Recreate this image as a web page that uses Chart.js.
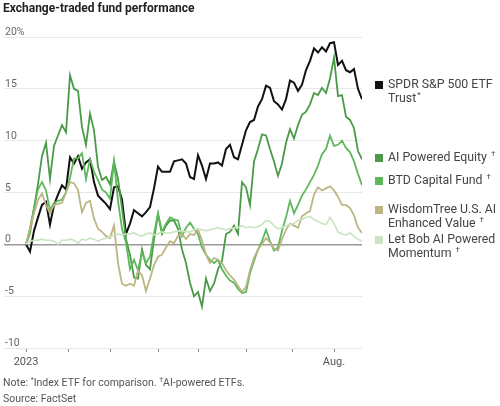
<!DOCTYPE html>
<html>
<head>
<meta charset="utf-8">
<script src="https://cdn.jsdelivr.net/npm/chart.js@4.4.0/dist/chart.umd.min.js"></script>
<style>
  body { margin: 0; width: 500px; height: 406px; background: #fff; overflow: hidden; position: relative;
         font-family: Roboto, 'Noto Sans', sans-serif; }
  #title { position: absolute; left: 3px; top: 1px; font-size: 12px; font-weight: bold; color: #222; }
  #wrap { position: absolute; left: 0; top: 0; width: 500px; height: 406px; }
  #note { position: absolute; left: 3px; top: 375px; font-size: 10.5px; color: #555; line-height: 16px; }
  #note sup { font-size: 7px; vertical-align: 4px; line-height: 0; }
</style>
</head>
<body>
<div id="wrap"><canvas id="chart"></canvas></div>
<div id="title">Exchange-traded fund performance</div>
<div id="note">Note: <sup>*</sup>Index ETF for comparison. <sup>†</sup>AI-powered ETFs.<br>Source: FactSet</div>
<script>
// values in % change since start of 2023, sampled evenly from Jan 3 to mid-Aug
const spdr = [0.0, -0.7, 1.3, 2.6, 3.8, 4.1, 1.9, 3.8, 4.8, 5.7, 5.3, 8.4, 7.8, 8.5, 7.3, 7.9, 8.2, 6.0, 4.7, 4.3,
  3.9, 3.4, 5.5, 5.6, 4.3, 1.0, 2.0, 3.3, 3.0, 2.7, 3.1, 3.6, 5.4, 7.5, 7.0, 7.0, 7.0, 8.0, 8.1, 8.2,
  7.8, 6.5, 6.3, 8.6, 7.6, 6.3, 7.8, 7.8, 7.9, 7.6, 9.2, 9.6, 8.4, 8.2, 9.6, 11.0, 11.8, 12.0, 13.3, 14.0,
  15.3, 15.1, 13.8, 13.5, 13.0, 14.0, 15.8, 15.6, 14.8, 15.4, 16.8, 17.7, 18.9, 18.5, 19.0, 18.6, 19.4, 19.5, 17.3, 17.7,
  16.8, 16.6, 16.9, 15.0, 14.0];
const aiEquity = [0.0, 1.5, 3.5, 5.8, 8.5, 9.8, 6.3, 9.5, 10.5, 11.5, 10.8, 16.3, 15.0, 14.8, 11.3, 9.6, 12.6, 11.0, 7.5, 6.2,
  6.5, 5.8, 8.0, 6.3, 3.5, 0.5, -1.0, -3.2, -3.3, -0.5, -2.0, -2.4, 0.5, 2.9, 1.0, 1.8, 2.3, 2.3, 1.5, -0.5,
  -1.8, -3.7, -5.0, -4.6, -6.0, -3.3, -4.5, -3.8, -2.4, -1.6, 1.0, 1.2, 1.8, 1.0, 6.0, 5.5, 3.8, 8.0, 9.2, 10.6,
  10.5, 9.2, 8.0, 6.6, 7.8, 9.8, 11.1, 10.2, 11.5, 12.5, 12.8, 13.5, 14.6, 14.4, 15.1, 14.6, 16.0, 18.0, 14.3, 14.4,
  12.3, 12.0, 11.2, 9.0, 8.2];
const btdCapital = [0.0, 1.0, 3.5, 5.3, 6.0, 5.2, 3.3, 4.0, 4.2, 4.3, 5.0, 6.4, 8.3, 8.3, 8.8, 6.3, 8.2, 7.0, 6.2, 5.3,
  5.0, 4.4, 8.0, 4.2, 1.5, 0.2, -2.4, -1.5, -2.5, -0.8, -1.8, -1.2, 1.0, 3.0, 1.2, 2.0, 2.6, 2.4, 2.3, 0.8,
  1.6, 2.1, 1.5, 1.0, -0.3, -1.0, -1.5, -1.8, -1.5, -2.4, -3.0, -3.5, -3.7, -4.3, -4.7, -4.6, -2.8, -1.6, -0.5, 0.3,
  1.4, 0.3, -0.6, -0.3, 1.3, 2.6, 4.2, 3.0, 3.8, 4.7, 5.3, 6.0, 6.7, 7.6, 8.7, 9.2, 10.5, 9.5, 9.6, 10.0,
  9.3, 8.9, 8.0, 6.8, 5.7];
const wisdomTree = [0.0, 1.5, 3.0, 4.3, 4.9, 3.8, 3.0, 3.8, 3.9, 4.0, 5.0, 6.0, 5.9, 5.2, 3.1, 4.0, 4.2, 2.5, 1.5, 1.2,
  0.8, 0.6, 1.8, -1.8, -3.8, -4.0, -3.8, -4.0, -2.5, -3.0, -4.5, -3.3, -2.0, -1.2, -1.0, -0.3, 0.3, 0.1, 0.8, 1.0,
  0.5, 1.0, 0.9, 1.4, 0.4, -1.0, -1.8, -1.3, -1.5, -1.8, -2.5, -3.0, -3.4, -4.0, -4.6, -4.1, -2.5, -1.3, -0.5, 0.0,
  0.6, 0.2, -0.4, -0.6, 0.5, 1.4, 2.0, 1.8, 1.6, 2.7, 3.0, 3.2, 4.8, 5.5, 5.2, 5.4, 5.6, 5.2, 4.6, 3.8,
  3.8, 3.5, 2.8, 1.6, 1.1];
const letBob = [0.0, 0.3, 0.4, 0.4, 0.5, 0.4, 0.4, 0.3, 0.0, 0.4, 0.4, 0.5, 0.4, 0.1, 0.5, 0.4, 0.6, 0.5, 0.3, 0.5,
  0.6, 0.7, 0.9, 1.0, 0.9, 1.0, 1.0, 1.1, 0.9, 0.8, 1.0, 1.1, 0.9, 1.0, 1.2, 1.1, 1.1, 1.2, 1.3, 1.3,
  1.2, 1.2, 1.4, 1.5, 1.4, 1.3, 1.4, 1.5, 1.6, 1.5, 1.4, 1.5, 1.6, 1.6, 1.8, 1.6, 1.7, 1.6, 1.7, 1.9,
  2.3, 2.2, 1.8, 1.5, 1.6, 1.8, 1.9, 2.0, 2.3, 2.4, 2.6, 2.7, 2.4, 2.2, 2.0, 1.9, 2.6, 2.0, 1.2, 1.0,
  0.9, 1.1, 0.8, 0.5, 0.3];

// month starts, in sample index units
const monthTicks = [0, 10.5, 21, 33, 43.25, 55, 66.5, 77];
const monthLabels = ['2023', '', '', '', '', '', '', 'Aug.'];
const yTicks = [20, 15, 10, 5, 0, -5, -10];
const yLabels = ['20%', '15', '10', '5', '0', '-5', '-10'];

const seriesNames = ['Let Bob AI Powered Momentum', 'WisdomTree U.S. AI Enhanced Value', 'BTD Capital Fund', 'AI Powered Equity', 'SPDR S&P 500 ETF Trust'];
const seriesData = [letBob, wisdomTree, btdCapital, aiEquity, spdr];
const seriesColors = ['#c8e4c0', '#bdb584', '#5cb85a', '#4a9a48', '#111111'];
const seriesWidths = [1.6, 1.8, 1.8, 1.8, 2.0];

const FONT = "Roboto, 'Noto Sans', sans-serif";

// legend beside the line ends: [color, lines, superscript mark, y of first line]
const legendItems = [
    ['#111111', ['SPDR S&P 500 ETF', 'Trust'], '*', 85],
    ['#4a9a48', ['AI Powered Equity '], '†', 158],
    ['#5cb85a', ['BTD Capital Fund '], '†', 181],
    ['#bdb584', ['WisdomTree U.S. AI', 'Enhanced Value '], '†', 210],
    ['#c8e4c0', ['Let Bob AI Powered', 'Momentum '], '†', 240]
];

const overlay = {
    id: 'overlay',
    afterDraw(chart) {
        const ctx = chart.ctx;
        const ys = chart.scales.y;
        const xs = chart.scales.x;
        ctx.save();
        // y labels sit just above their gridline
        ctx.font = '10.5px ' + FONT;
        ctx.fillStyle = '#666';
        ctx.textAlign = 'left';
        ctx.textBaseline = 'alphabetic';
        yTicks.forEach((v, i) => {
            ctx.fillText(yLabels[i], 5, ys.getPixelForValue(v) - 2);
        });
        // x labels
        ctx.font = '11px ' + FONT;
        ctx.fillStyle = '#555';
        ctx.textAlign = 'center';
        ctx.textBaseline = 'middle';
        monthTicks.forEach((t, i) => {
            if (monthLabels[i]) ctx.fillText(monthLabels[i], xs.getPixelForValue(t), 362);
        });
        // legend
        ctx.textAlign = 'left';
        legendItems.forEach(item => {
            const [color, lines, mark, y0] = item;
            ctx.fillStyle = color;
            ctx.fillRect(375, y0 - 4, 8, 8);
            ctx.fillStyle = '#444';
            lines.forEach((ln, k) => {
                const y = y0 + k * 14;
                ctx.font = '12.3px ' + FONT;
                ctx.fillText(ln, 388, y);
                if (k === lines.length - 1) {
                    const w = ctx.measureText(ln).width;
                    ctx.font = '8px ' + FONT;
                    ctx.fillText(mark, 388 + w + 1, y - 4);
                }
            });
        });
        ctx.restore();
    }
};

const ctx = document.getElementById('chart').getContext('2d');
new Chart(ctx, {
    type: 'line',
    data: {
        datasets: seriesNames.map((name, s) => ({
            label: name,
            data: seriesData[s].map((v, i) => ({ x: i, y: v })),
            borderColor: seriesColors[s],
            borderWidth: seriesWidths[s],
            pointRadius: 0,
            tension: 0,
            fill: false
        }))
    },
    options: {
        responsive: true,
        maintainAspectRatio: false,
        animation: false,
        layout: { padding: { top: 37, left: 4, right: 138, bottom: 54 } },
        plugins: {
            legend: { display: false },
            tooltip: { enabled: false }
        },
        scales: {
            x: {
                type: 'linear',
                min: -5.5,
                max: 84,
                afterBuildTicks: scale => { scale.ticks = monthTicks.map(v => ({ value: v })); },
                grid: { drawOnChartArea: false, drawTicks: true, tickLength: 4, color: '#888', offset: false },
                border: { display: false },
                ticks: { display: false }
            },
            y: {
                min: -10,
                max: 20,
                afterBuildTicks: scale => { scale.ticks = yTicks.map(v => ({ value: v })); },
                grid: {
                    drawTicks: false,
                    color: c => c.tick && c.tick.value === 0 ? '#999' : '#e8e8e8',
                    lineWidth: c => c.tick && c.tick.value === 0 ? 1.6 : 1
                },
                border: { display: false },
                ticks: { display: false }
            }
        }
    },
    plugins: [overlay]
});
</script>
</body>
</html>
